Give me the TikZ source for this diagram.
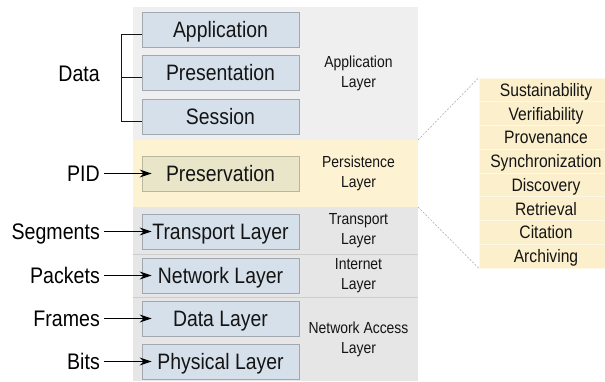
\documentclass[tikz,border=0pt]{standalone}
\usepackage{fontspec}
\setmainfont{Liberation Sans}[FakeStretch=0.87]
\usetikzlibrary{arrows.meta}

\definecolor{applygray}{HTML}{EFEFEF}
\definecolor{netgray}{HTML}{E6E6E6}
\definecolor{sepgray}{HTML}{CDCDCD}
\definecolor{persistyellow}{HTML}{FDF2D2}
\definecolor{boxblue}{HTML}{D6E0EA}
\definecolor{boxedge}{HTML}{A2A8B0}
\definecolor{presfill}{HTML}{E8E5C9}
\definecolor{presedge}{HTML}{B9B69E}
\definecolor{panelfill}{HTML}{FCEFCC}
\definecolor{txt}{HTML}{141414}

\tikzset{
	band/.style={minimum width=285pt, inner sep=0pt, outer sep=0pt},
	layerbox/.style={draw=boxedge, fill=boxblue, line width=0.8pt, minimum width=157pt, minimum height=35pt, inner sep=0pt, text height=15.5pt, text depth=0pt, text=txt, font=\fontsize{22.3}{26}\selectfont},
	bandlabel/.style={align=center, text=txt, font=\fontsize{16}{20}\selectfont},
	sidelabel/.style={anchor=east, inner sep=2pt, text height=16pt, text depth=0pt, font=\fontsize{22.5}{26}\selectfont},
	rowbox/.style={fill=panelfill, draw=white!55!panelfill, line width=0.6pt, minimum width=134pt, minimum height=23.75pt, inner sep=0pt, text height=13pt, text depth=0pt, text=txt, font=\fontsize{18}{22}\selectfont},
	feed/.style={-{Stealth[length=12pt,width=8pt]}, line width=1.1pt, shorten <=2pt},
}

\begin{document}
\begin{tikzpicture}[x=1pt, y=-1pt]
		\useasboundingbox (0,0) rectangle (605,381);

		% layer bands
		\node[band, fill=applygray, minimum height=133pt] (appband) at (275.5,73.5) {};
		\node[band, fill=persistyellow, minimum height=67pt] (persist) at (275.5,173.5) {};
		\node[band, fill=netgray, minimum height=47pt] (transband) at (275.5,230.5) {};
		\node[band, fill=netgray, minimum height=43pt] (inetband) at (275.5,275.5) {};
		\node[band, fill=netgray, minimum height=84pt] (accband) at (275.5,339) {};
		\draw[sepgray, line width=0.8pt] (transband.south west) -- (transband.south east);
		\draw[sepgray, line width=0.8pt] (inetband.south west) -- (inetband.south east);

		\node[bandlabel] (applbl) at (358.5,73.5) {Application\\Layer};
		\node[bandlabel] (perslbl) at (358.5,173.5) {Persistence\\Layer};
		\node[bandlabel] (translbl) at (358.5,231) {Transport\\Layer};
		\node[bandlabel] (inetlbl) at (358.5,275.5) {Internet\\Layer};
		\node[bandlabel] (acclbl) at (358.5,339.5) {Network Access\\Layer};

		% protocol boxes
		\node[layerbox] (app) at (220.5,29.5) {Application};
		\node[layerbox] (pres) at (220.5,72.5) {Presentation};
		\node[layerbox] (sess) at (220.5,116.5) {Session};
		\node[layerbox, fill=presfill, draw=presedge] (preserv) at (220.5,173.5) {Preservation};
		\node[layerbox] (transp) at (220.5,231.5) {Transport Layer};
		\node[layerbox] (netw) at (220.5,275.5) {Network Layer};
		\node[layerbox] (datal) at (220.5,318.5) {Data Layer};
		\node[layerbox] (phys) at (220.5,361.5) {Physical Layer};

		% units
		\node[sidelabel] (data) at (102,73) {Data};
		\node[sidelabel] (pid) at (102,173.5) {PID};
		\node[sidelabel] (seg) at (102,231.5) {Segments};
		\node[sidelabel] (pkt) at (102,275.5) {Packets};
		\node[sidelabel] (frm) at (102,318.5) {Frames};
		\node[sidelabel] (bit) at (102,361.5) {Bits};

		\draw[txt, line width=1pt] ([yshift=-4.5pt]app.west) -- ++(-20.5,0) |- ([yshift=-4.5pt]sess.west);
		\draw[txt, line width=1pt] ([yshift=-4.5pt]pres.west) -- ++(-20.5,0);

		\draw[feed] (pid) -- ([xshift=10pt]preserv.west);
		\draw[feed] (seg) -- ([xshift=10pt]transp.west);
		\draw[feed] (pkt) -- ([xshift=10pt]netw.west);
		\draw[feed] (frm) -- ([xshift=10pt]datal.west);
		\draw[feed] (bit) -- ([xshift=10pt]phys.west);

		% persistence services
		\node[rowbox] (feat1) at (546,89.875) {Sustainability};
		\node[rowbox] (feat2) at (546,113.625) {Verifiability};
		\node[rowbox] (feat3) at (546,137.375) {Provenance};
		\node[rowbox] (feat4) at (546,161.125) {Synchronization};
		\node[rowbox] (feat5) at (546,184.875) {Discovery};
		\node[rowbox] (feat6) at (546,208.625) {Retrieval};
		\node[rowbox] (feat7) at (546,232.375) {Citation};
		\node[rowbox] (feat8) at (546,256.125) {Archiving};

		\draw[gray!70, line width=0.5pt, dash pattern=on 2pt off 1.5pt] (persist.north east) -- (feat1.north west);
		\draw[gray!70, line width=0.5pt, dash pattern=on 2pt off 1.5pt] (persist.south east) -- (feat8.south west);
	\end{tikzpicture}
\end{document}
